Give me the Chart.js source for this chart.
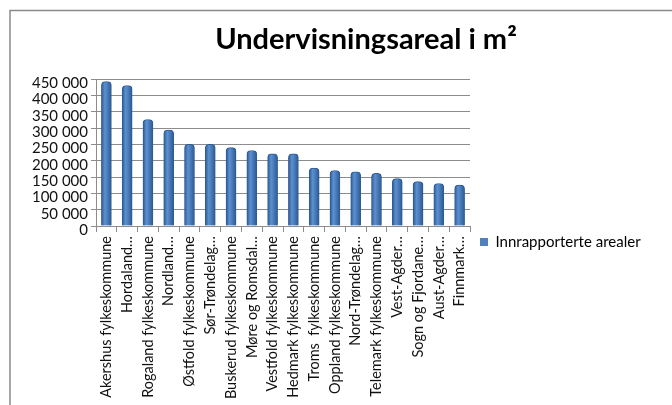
<!DOCTYPE html>
<html>
<head>
<meta charset="utf-8">
<script src="https://cdn.jsdelivr.net/npm/chart.js@4"></script>
<style>
  html, body { margin: 0; padding: 0; background: #fff; }
  #wrap { width: 672px; height: 405px; }
</style>
</head>
<body>
<div id="wrap"><canvas id="arealChart" width="672" height="405"></canvas></div>
<script>
const fylker = [
  'Akershus fylkeskommune', 'Hordaland…', 'Rogaland fylkeskommune', 'Nordland…',
  'Østfold fylkeskommune', 'Sør-Trøndelag…', 'Buskerud fylkeskommune', 'Møre og Romsdal…',
  'Vestfold fylkeskommune', 'Hedmark fylkeskommune', 'Troms  fylkeskommune', 'Oppland fylkeskommune',
  'Nord-Trøndelag…', 'Telemark fylkeskommune', 'Vest-Agder…', 'Sogn og Fjordane…',
  'Aust-Agder…', 'Finnmark…'
];
const arealer = [
  442000, 430000, 326000, 294000,
  250000, 250000, 240000, 231000,
  221000, 221000, 177000, 170000,
  166000, 161000, 145000, 136000,
  130000, 125000
];
const seriesName = 'Innrapporterte arealer';
const chartTitle = 'Undervisningsareal i m²';
const yMax = 450000;
const yStep = 50000;

const fmt = v => String(v).replace(/\B(?=(\d{3})+(?!\d))/g, ' ');

// grey frame along top and left edge + title text
const framePlugin = {
  id: 'frame',
  beforeDraw(chart) {
    const c = chart.ctx;
    c.save();
    c.strokeStyle = '#8a8a8a';
    c.lineWidth = 1.5;
    c.beginPath();
    c.moveTo(10, chart.height);
    c.lineTo(10, 10.5);
    c.lineTo(chart.width, 10.5);
    c.stroke();
    c.restore();
  },
  afterDraw(chart) {
    const c = chart.ctx;
    c.save();
    c.font = 'bold 29px Lato';
    c.fillStyle = '#000';
    c.textAlign = 'center';
    c.textBaseline = 'middle';
    c.fillText(chartTitle, 366, 40);
    c.restore();
  }
};

// keep the legend column a fixed width so the plot ends where it should
const legendWidth = {
  id: 'legendWidth',
  beforeLayout(chart) {
    const lg = chart.legend;
    if (lg && !lg._fixed) {
      const fit = lg.fit.bind(lg);
      lg.fit = function () { fit(); this.width = 202; };
      lg._fixed = true;
    }
  }
};

function barFill(ctx) {
  const chart = ctx.chart;
  const xs = chart.scales.x;
  if (!xs || ctx.dataIndex === undefined) return '#4f81bd';
  const x = xs.getPixelForValue(ctx.dataIndex);
  const g = chart.ctx.createLinearGradient(x - 5, 0, x + 5, 0);
  g.addColorStop(0, '#2c5a92');
  g.addColorStop(0.35, '#5d90d0');
  g.addColorStop(0.6, '#4a7cbb');
  g.addColorStop(1, '#2b5890');
  return g;
}

new Chart(document.getElementById('arealChart'), {
  type: 'bar',
  data: {
    labels: fylker,
    datasets: [{
      label: seriesName,
      data: arealer,
      backgroundColor: barFill,
      borderColor: '#2f5c94',
      borderWidth: 1,
      borderRadius: { topLeft: 4, topRight: 4 },
      borderSkipped: 'bottom',
      barThickness: 10
    }]
  },
  options: {
    animation: false,
    responsive: false,
    layout: { padding: { top: 79, left: 0, right: 0, bottom: 0 } },
    scales: {
      x: {
        afterFit(s) { s.height = 179; },
        grid: { drawOnChartArea: false, tickLength: 6, color: '#8c8c8c' },
        border: { color: '#8c8c8c' },
        ticks: {
          autoSkip: false,
          maxRotation: 90,
          minRotation: 90,
          padding: 4,
          color: '#111',
          font: { family: 'Lato', size: 14.5 }
        }
      },
      y: {
        min: 0,
        max: yMax,
        afterFit(s) { s.width = 96; },
        grid: { color: '#8c8c8c', tickLength: 5 },
        border: { color: '#8c8c8c' },
        ticks: {
          stepSize: yStep,
          autoSkip: false,
          labelOffset: 4,
          padding: 3,
          color: '#111',
          font: { family: 'Lato', size: 15 },
          callback: v => fmt(v)
        }
      }
    },
    plugins: {
      title: { display: false },
      tooltip: { enabled: false },
      legend: {
        position: 'right',
        labels: {
          boxWidth: 8,
          boxHeight: 8,
          padding: 10,
          color: '#333',
          font: { family: 'Lato', size: 15 },
          generateLabels: chart => [{
            text: seriesName,
            fillStyle: '#4f81bd',
            strokeStyle: '#4f81bd',
            lineWidth: 0,
            datasetIndex: 0
          }]
        }
      }
    }
  },
  plugins: [framePlugin, legendWidth]
});
</script>
</body>
</html>
